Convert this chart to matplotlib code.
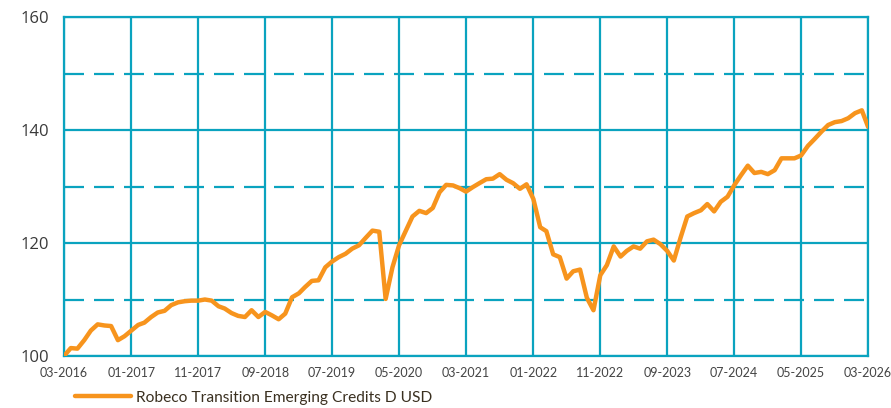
import numpy as np
import pandas as pd
import matplotlib
matplotlib.use("Agg")
import matplotlib.pyplot as plt

# Monthly index values, 03-2016 .. 03-2026
values = [
    100.0, 101.4, 101.3, 102.8, 104.5, 105.6, 105.4, 105.3, 102.8, 103.5,
    104.5, 105.5, 105.9, 106.9, 107.7, 108.0, 109.0, 109.5, 109.7, 109.8,
    109.8, 110.0, 109.8, 108.8, 108.4, 107.6, 107.1, 106.9, 108.1, 106.9,
    107.8, 107.2, 106.5, 107.5, 110.4, 111.1, 112.2, 113.3, 113.4, 115.7,
    116.7, 117.5, 118.1, 119.0, 119.6, 120.9, 122.2, 122.0, 110.1, 115.7,
    119.6, 122.2, 124.7, 125.7, 125.3, 126.2, 129.0, 130.3, 130.2, 129.7,
    129.1, 129.9, 130.6, 131.3, 131.4, 132.2, 131.2, 130.6, 129.6, 130.4,
    127.8, 122.8, 122.1, 118.0, 117.5, 113.7, 115.0, 115.3, 110.3, 108.1,
    114.3, 116.1, 119.4, 117.6, 118.6, 119.4, 119.0, 120.3, 120.6, 119.8,
    118.6, 116.9, 121.0, 124.7, 125.3, 125.8, 126.9, 125.6, 127.3, 128.2,
    130.2, 132.0, 133.7, 132.4, 132.6, 132.2, 132.9, 135.0, 135.0, 135.0,
    135.5, 137.2, 138.4, 139.7, 140.9, 141.4, 141.6, 142.1, 143.0, 143.5,
    140.6,
]
dates = pd.date_range("2016-03-01", periods=len(values), freq="MS")
series_name = "Robeco Transition Emerging Credits D USD"

tick_dates = pd.date_range("2016-03-01", "2026-03-01", freq="10MS")
tick_labels = [d.strftime("%m-%Y") for d in tick_dates]

grid_col = "#0aa3bf"
line_col = "#f7941d"

plt.rcParams["font.family"] = ["Open Sans", "DejaVu Sans"]

fig = plt.figure(figsize=(8.91, 4.08), dpi=100)
ax = fig.add_axes([0.0718, 0.1275, 0.9024, 0.8305])

# grid
for v in [100, 120, 140, 160]:
    ax.axhline(v, color=grid_col, lw=1.6, zorder=1)
for v in [110, 130, 150]:
    ax.axhline(v, color=grid_col, lw=1.6, ls=(0, (9, 4.5)), zorder=1)
for d in tick_dates:
    ax.axvline(d, color=grid_col, lw=1.6, zorder=1)

ax.plot(dates, values, color=line_col, lw=3.2, solid_joinstyle="round",
        solid_capstyle="round", zorder=3, label=series_name)

ax.set_xlim(dates[0], dates[-1])
ax.set_ylim(100, 160)
ax.set_yticks([100, 120, 140, 160])
ax.set_xticks(tick_dates)
ax.set_xticklabels(tick_labels, fontsize=9, color="#444444", family="Lato")
ax.tick_params(axis="y", labelsize=12, colors="#3a3a3a", length=0, pad=11)
ax.tick_params(axis="x", length=0, pad=8)
for s in ax.spines.values():
    s.set_color(grid_col)
    s.set_linewidth(1.6)

leg = ax.legend(loc="upper left", bbox_to_anchor=(0.006, -0.084), frameon=False,
                prop={"family": "Lato", "size": 11.2}, handlelength=3.6,
                handletextpad=0.3, labelcolor="#3a3020", borderaxespad=0)

fig.savefig("out.png", dpi=100)
